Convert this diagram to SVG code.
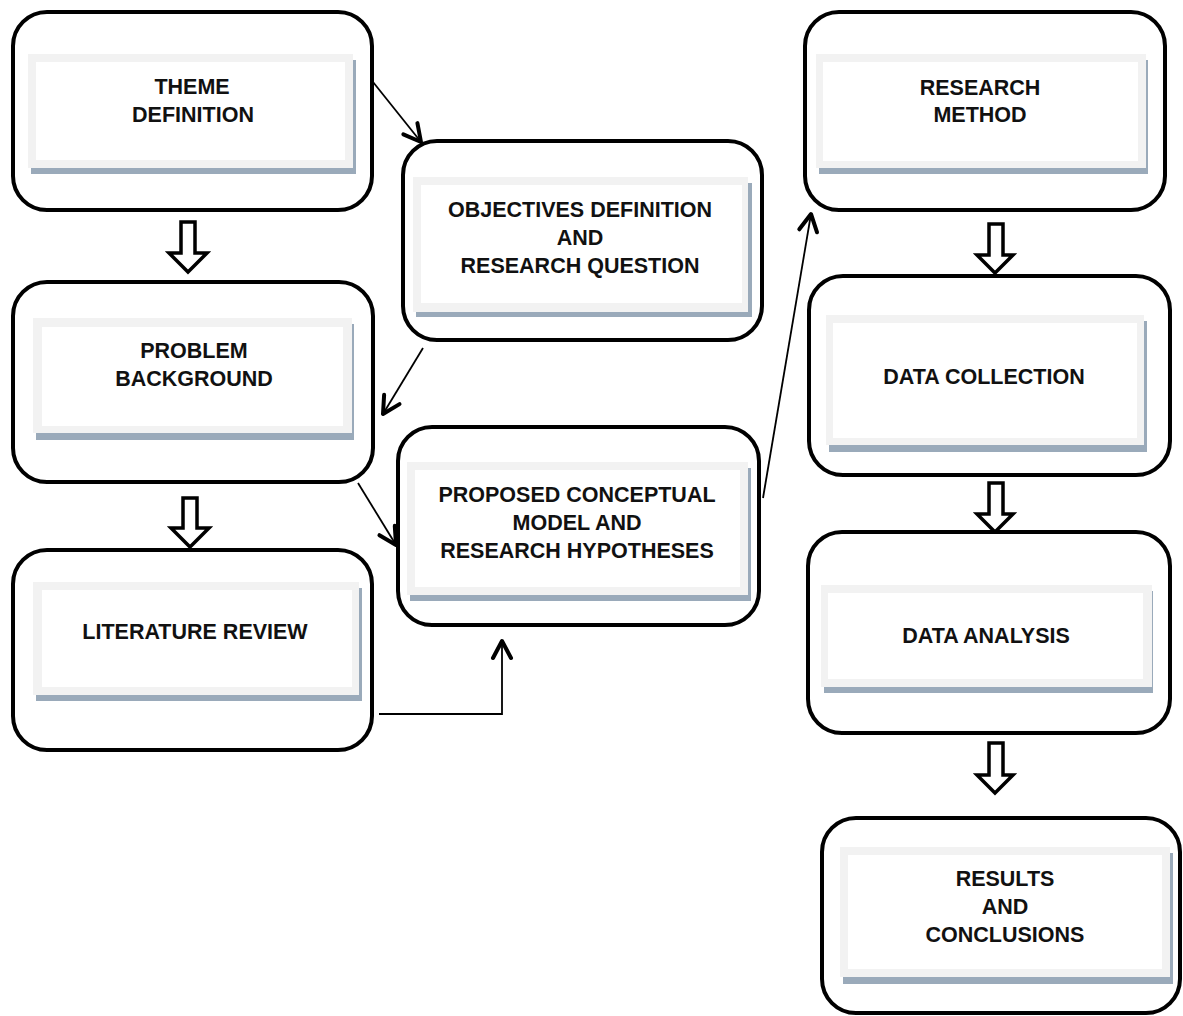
<svg xmlns="http://www.w3.org/2000/svg" width="1183" height="1016" viewBox="0 0 1183 1016">
<style>
.outer{fill:#fff;stroke:#000;stroke-width:4}
.shadow{fill:#9aaaba}
.frame{fill:#f2f2f2}
.inner{fill:#fff}
.lbl{font-family:"Liberation Sans",Arial,sans-serif;font-weight:bold;font-size:21.5px;fill:#111;text-anchor:middle}
.conn{fill:none;stroke:#000;stroke-width:1.8}
.block{fill:#fff;stroke:#000;stroke-width:3.5;stroke-linejoin:miter}
</style>
<defs>
<marker id="ah" markerUnits="userSpaceOnUse" orient="auto" refX="0" refY="0" markerWidth="40" markerHeight="40" viewBox="-20 -20 40 40" overflow="visible">
<path d="M-17,-9 L0,0 L-17,9" fill="none" stroke="#000" stroke-width="4" stroke-linecap="round" stroke-linejoin="round"/>
</marker>
</defs>
<rect width="1183" height="1016" fill="#fff"/>

<g id="connectors">
<path class="conn" d="M373,82 L421,142" marker-end="url(#ah)"/>
<path class="conn" d="M423,348 L383,414" marker-end="url(#ah)"/>
<path class="conn" d="M358,483 L396,545" marker-end="url(#ah)"/>
<path class="conn" d="M379,714 L502,714 L502,641" marker-end="url(#ah)"/>
<path class="conn" d="M763,498 L811,214" marker-end="url(#ah)"/>
<path class="block" d="M181,222 L195,222 L195,253 L207,253 L188,272 L169,253 L181,253 Z"/>
<path class="block" d="M183,498 L197,498 L197,528 L209,528 L190,547 L171,528 L183,528 Z"/>
<path class="block" d="M989,224 L1003,224 L1003,255 L1013,255 L995,273 L977,255 L989,255 Z"/>
<path class="block" d="M989,483 L1003,483 L1003,514 L1013,514 L995,532 L977,514 L989,514 Z"/>
<path class="block" d="M989,743 L1003,743 L1003,775 L1013,775 L995,793 L977,775 L989,775 Z"/>
</g>

<g id="node-theme">
<rect class="outer" x="13" y="12" width="359" height="198" rx="34"/>
<rect class="shadow" x="31" y="60" width="325" height="114"/>
<rect class="frame" x="28" y="54" width="325" height="114"/>
<rect class="inner" x="36" y="62" width="309" height="98"/>
<text class="lbl" x="192" y="94">THEME</text>
<text class="lbl" x="193" y="122">DEFINITION</text>
</g>

<g id="node-objectives">
<rect class="outer" x="403" y="141" width="359" height="199" rx="34"/>
<rect class="shadow" x="416" y="183" width="336" height="134"/>
<rect class="frame" x="413" y="177" width="335" height="135"/>
<rect class="inner" x="421" y="185" width="321" height="118"/>
<text class="lbl" x="580" y="217">OBJECTIVES DEFINITION</text>
<text class="lbl" x="580" y="245">AND</text>
<text class="lbl" x="580" y="273">RESEARCH QUESTION</text>
</g>

<g id="node-problem">
<rect class="outer" x="13" y="282" width="360" height="200" rx="34"/>
<rect class="shadow" x="36" y="324" width="318" height="116"/>
<rect class="frame" x="33" y="318" width="319" height="115"/>
<rect class="inner" x="42" y="327" width="301" height="99"/>
<text class="lbl" x="194" y="358">PROBLEM</text>
<text class="lbl" x="194" y="386">BACKGROUND</text>
</g>

<g id="node-literature">
<rect class="outer" x="13" y="550" width="359" height="200" rx="34"/>
<rect class="shadow" x="36" y="588" width="326" height="113"/>
<rect class="frame" x="33" y="582" width="326" height="113"/>
<rect class="inner" x="42" y="590" width="310" height="97"/>
<text class="lbl" x="195" y="639">LITERATURE REVIEW</text>
</g>

<g id="node-proposed">
<rect class="outer" x="398" y="427" width="361" height="198" rx="34"/>
<rect class="shadow" x="410" y="468" width="341" height="133"/>
<rect class="frame" x="407" y="462" width="341" height="133"/>
<rect class="inner" x="415" y="470" width="325" height="117"/>
<text class="lbl" x="577" y="502">PROPOSED CONCEPTUAL</text>
<text class="lbl" x="577" y="530">MODEL AND</text>
<text class="lbl" x="577" y="558">RESEARCH HYPOTHESES</text>
</g>

<g id="node-method">
<rect class="outer" x="805" y="12" width="360" height="198" rx="34"/>
<rect class="shadow" x="819" y="60" width="329" height="114"/>
<rect class="frame" x="816" y="54" width="330" height="114"/>
<rect class="inner" x="823" y="62" width="315" height="99"/>
<text class="lbl" x="980" y="95">RESEARCH</text>
<text class="lbl" x="980" y="122">METHOD</text>
</g>

<g id="node-collection">
<rect class="outer" x="809" y="276" width="361" height="199" rx="34"/>
<rect class="shadow" x="829" y="321" width="318" height="131"/>
<rect class="frame" x="826" y="315" width="318" height="130"/>
<rect class="inner" x="833" y="323" width="304" height="115"/>
<text class="lbl" x="984" y="384">DATA COLLECTION</text>
</g>

<g id="node-analysis">
<rect class="outer" x="808" y="532" width="362" height="201" rx="34"/>
<rect class="shadow" x="824" y="591" width="329" height="102"/>
<rect class="frame" x="821" y="585" width="331" height="102"/>
<rect class="inner" x="828" y="593" width="315" height="86"/>
<text class="lbl" x="986" y="643">DATA ANALYSIS</text>
</g>

<g id="node-results">
<rect class="outer" x="822" y="818" width="358" height="195" rx="34"/>
<rect class="shadow" x="843" y="853" width="330" height="131"/>
<rect class="frame" x="840" y="847" width="330" height="130"/>
<rect class="inner" x="848" y="855" width="314" height="114"/>
<text class="lbl" x="1005" y="886">RESULTS</text>
<text class="lbl" x="1005" y="914">AND</text>
<text class="lbl" x="1005" y="942">CONCLUSIONS</text>
</g>
</svg>
